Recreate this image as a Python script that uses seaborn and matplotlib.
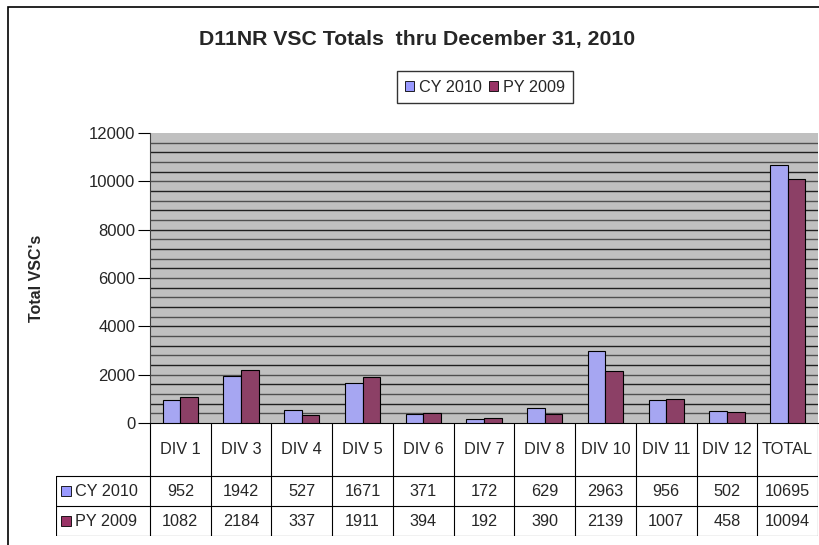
import numpy as np
import pandas as pd
import matplotlib
matplotlib.use("Agg")
import matplotlib.pyplot as plt
from matplotlib.patches import Patch, Rectangle
import seaborn as sns

# data
divisions = ["DIV 1", "DIV 3", "DIV 4", "DIV 5", "DIV 6", "DIV 7",
             "DIV 8", "DIV 10", "DIV 11", "DIV 12", "TOTAL"]
cy_2010 = [952, 1942, 527, 1671, 371, 172, 629, 2963, 956, 502, 10695]
py_2009 = [1082, 2184, 337, 1911, 394, 192, 390, 2139, 1007, 458, 10094]
series_names = ["CY 2010", "PY 2009"]
series_colors = ["#9999FF", "#993366"]
y_ticks = [0, 2000, 4000, 6000, 8000, 10000, 12000]

df = pd.DataFrame({"Division": divisions * 2,
                   "Series": [series_names[0]] * len(divisions) + [series_names[1]] * len(divisions),
                   "VSC": cy_2010 + py_2009})

sns.set_style("white")
plt.rcParams['font.family'] = ['Liberation Sans', 'DejaVu Sans']

W, H = 819, 545
fig = plt.figure(figsize=(W / 100, H / 100), dpi=100)

def fx(px):
    return px / W

def fy(py):
    return 1 - py / H

# outer chart frame (cropped at right and bottom)
fig.patches.append(Rectangle((fx(8), fy(600)), 2, fy(7) - fy(600), transform=fig.transFigure,
                             fill=False, edgecolor="black", linewidth=1.2))

left, right, top, bottom = 150, 818, 133, 423
ax = fig.add_axes([fx(left), fy(bottom), fx(right - left), fy(top) - fy(bottom)])
ax.set_facecolor("#C0C0C0")

sns.barplot(data=df, x="Division", y="VSC", hue="Series", palette=series_colors,
            width=0.58, edgecolor="black", linewidth=0.8, ax=ax, legend=False, zorder=3)

ax.set_ylim(0, 12000)
ax.set_xlim(-0.5, len(divisions) - 0.5)
ax.set_yticks(y_ticks)
ax.set_yticklabels([str(t) for t in y_ticks], fontsize=12)
for g in range(400, 12000, 400):
    ax.axhline(g, color="#202020" if g % 800 == 0 else "#505050", linewidth=1.0, zorder=1)
ax.set_xticks([])
ax.set_xlabel("")
ax.set_ylabel("Total VSC's", fontsize=11.5, fontweight="bold", labelpad=0)
ax.yaxis.set_label_coords((44 - left) / (right - left), 0.5)
ax.tick_params(axis="y", direction="out", length=9, width=0.8, color="black", left=True, pad=1.5)
for side in ["top", "right"]:
    ax.spines[side].set_visible(False)
ax.spines["left"].set_color("#404040")
ax.spines["bottom"].set_color("black")

# data table under the plot
tleft, ttop, tbottom = 56, 423, 536
ppu = (right - left) / len(divisions)
tax = fig.add_axes([fx(tleft), fy(tbottom), fx(right - tleft), fy(ttop) - fy(tbottom)])
x0 = -0.5 - (left - tleft) / ppu
tax.set_xlim(x0, len(divisions) - 0.5)
tax.set_ylim(tbottom, ttop)
tax.axis("off")
rows_y = [423, 476, 506, 536]
lc = "black"
for yy in rows_y[1:]:
    tax.plot([x0, len(divisions) - 0.5], [yy] * 2, color=lc, lw=0.8)
for i in range(len(divisions) + 1):
    tax.plot([i - 0.5] * 2, [rows_y[0], rows_y[-1]], color=lc, lw=0.8)
tax.plot([x0] * 2, [rows_y[1], rows_y[-1]], color=lc, lw=0.8)

fs = 11.7
for i, d in enumerate(divisions):
    tax.text(i, (rows_y[0] + rows_y[1]) / 2, d, ha="center", va="center", fontsize=fs)
    tax.text(i, (rows_y[1] + rows_y[2]) / 2, str(cy_2010[i]), ha="center", va="center", fontsize=fs)
    tax.text(i, (rows_y[2] + rows_y[3]) / 2, str(py_2009[i]), ha="center", va="center", fontsize=fs)

for r, (name, col) in enumerate(zip(series_names, series_colors)):
    yc = (rows_y[r + 1] + rows_y[r + 2]) / 2
    tax.add_patch(Rectangle((x0 + 5 / ppu, yc - 5), 10 / ppu, 10, facecolor=col,
                            edgecolor="black", lw=0.6))
    tax.text(x0 + 19 / ppu, yc, name, ha="left", va="center", fontsize=fs)

# title and legend
fig.text(fx(417), fy(39), "D11NR VSC Totals  thru December 31, 2010", ha="center", va="center",
         fontsize=15.3, fontweight="bold")
handles = [Patch(facecolor=c, edgecolor="black", linewidth=0.6, label=n)
           for n, c in zip(series_names, series_colors)]
fig.legend(handles=handles, loc="center", bbox_to_anchor=(fx(485), fy(87)), ncol=2, fontsize=fs,
           frameon=True, fancybox=False, edgecolor="black", handlelength=0.6, handleheight=0.6,
           handletextpad=0.3, columnspacing=0.4, borderpad=0.5, borderaxespad=0)

fig.savefig("out.png", dpi=100)
